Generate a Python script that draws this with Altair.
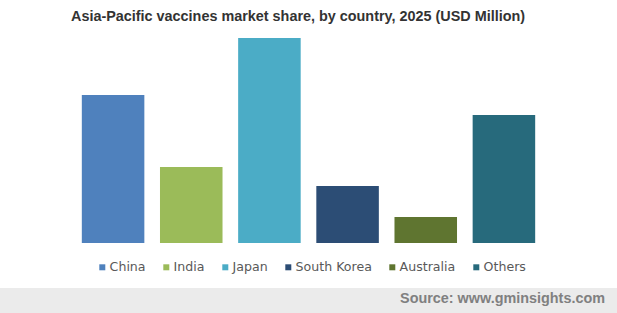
import altair as alt
import pandas as pd

countries = ["China", "India", "Japan", "South Korea", "Australia", "Others"]
values = [1480, 760, 2050, 570, 260, 1280]
colors = ["#4f81bd", "#9bbb59", "#4bacc6", "#2c4d75", "#5f7530", "#276a7c"]

title_text = "Asia-Pacific vaccines market share, by country, 2025 (USD Million)"
source_text = "Source: www.gminsights.com"

df = pd.DataFrame({"country": countries, "value": values})

W, H = 469, 205
LEFT, TOP = 74, 38

bars = alt.Chart(df).mark_bar().encode(
    x=alt.X("country:N", sort=countries, axis=None,
            scale=alt.Scale(paddingInner=0.2, paddingOuter=0.1)),
    y=alt.Y("value:Q", axis=None, scale=alt.Scale(domain=[0, max(values)], nice=False)),
    color=alt.Color("country:N", sort=countries,
                    scale=alt.Scale(domain=countries, range=colors),
                    legend=alt.Legend(
                        title=None, orient="none", direction="horizontal",
                        legendX=99 - LEFT - 3, legendY=268 - TOP - 7,
                        symbolType="square", symbolSize=36, symbolStrokeWidth=0,
                        labelFont="DejaVu Sans", labelFontSize=12.6, labelColor="#595959",
                        labelOffset=1, columnPadding=14, gridAlign="none")),
)

footer_df = pd.DataFrame({"t": [source_text]})
footer = alt.Chart(footer_df).mark_rect(color="#ebebeb").encode(
    x=alt.value(-LEFT), x2=alt.value(617 - LEFT),
    y=alt.value(288 - TOP), y2=alt.value(313 - TOP + 5),
)
source = alt.Chart(footer_df).mark_text(
    align="right", baseline="middle", font="Liberation Sans", fontSize=14.4,
    fontWeight="bold", color="#808080",
).encode(x=alt.value(605 - LEFT), y=alt.value(299 - TOP), text="t:N")

title_df = pd.DataFrame({"t": [title_text]})
title = alt.Chart(title_df).mark_text(
    align="center", baseline="middle", font="Liberation Sans", fontSize=14.4,
    fontWeight="bold", color="#333333",
).encode(x=alt.value(298 - LEFT), y=alt.value(17 - TOP), text="t:N")

chart = alt.layer(footer, bars, source, title).properties(
    width=W, height=H,
    background="white",
    autosize=alt.AutoSizeParams(type="none"),
    padding={"left": LEFT, "top": TOP, "right": 617 - LEFT - W, "bottom": 313 - TOP - H},
).configure_view(strokeWidth=0, stroke=None)

chart.save("out.html", embed_options={"renderer": "svg", "actions": False})
